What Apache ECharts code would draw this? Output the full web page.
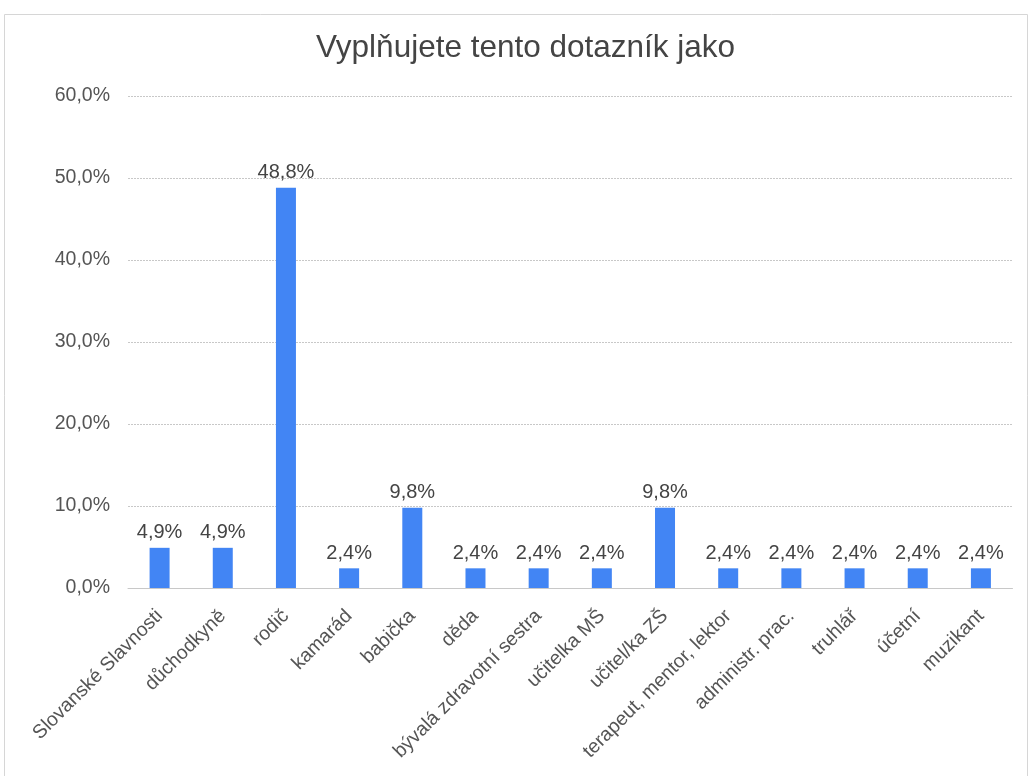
<!DOCTYPE html>
<html>
<head>
<meta charset="utf-8">
<script src="https://cdn.jsdelivr.net/npm/echarts@6/dist/echarts.min.js"></script>
<style>
html,body{margin:0;padding:0;background:#fff;}
#c{width:1032px;height:776px;}
</style>
</head>
<body>
<div id="c"></div>
<script>
const titleText = 'Vyplňujete tento dotazník jako';
const categories = ['Slovanské Slavnosti','důchodkyně','rodič','kamarád','babička','děda','bývalá zdravotní sestra','učitelka MŠ','učitel/ka ZŠ','terapeut, mentor, lektor','administr. prac.','truhlář','účetní','muzikant'];
const values = [4.9, 4.9, 48.8, 2.4, 9.8, 2.4, 2.4, 2.4, 9.8, 2.4, 2.4, 2.4, 2.4, 2.4];
const yTicks = [0, 10, 20, 30, 40, 50, 60];

const fmt = v => v.toFixed(1).replace('.', ',') + '%';
const font = '"Liberation Sans", Arial, sans-serif';

const chart = echarts.init(document.getElementById('c'), null, {renderer: 'canvas'});
chart.setOption({
  animation: false,
  backgroundColor: '#fff',
  graphic: [{
    type: 'rect', shape: {x: 4.5, y: 14.5, width: 1023, height: 780},
    style: {fill: 'none', stroke: '#d6d6d6', lineWidth: 1}, silent: true
  }],
  title: {
    text: titleText, left: 316, top: 32, padding: 0,
    textStyle: {fontFamily: font, fontSize: 31.5, fontWeight: 'normal', color: '#444'}
  },
  grid: {left: 128, right: 19.5, top: 96, bottom: 188, containLabel: false},
  xAxis: {
    type: 'category', data: categories,
    axisLine: {show: true, lineStyle: {color: '#c8c8c8'}},
    axisTick: {show: false},
    axisLabel: {rotate: 45, interval: 0, fontFamily: font, fontSize: 19.5, color: '#555', margin: 25}
  },
  yAxis: {
    type: 'value', min: yTicks[0], max: yTicks[yTicks.length - 1], interval: 10,
    axisLine: {show: false}, axisTick: {show: false},
    splitLine: {lineStyle: {color: '#c8c8c8', type: [2, 1]}},
    axisLabel: {formatter: fmt, fontFamily: font, fontSize: 19.5, color: '#555', margin: 18}
  },
  series: [{
    type: 'bar', data: values, barWidth: 20,
    itemStyle: {color: '#4285F4'},
    label: {show: true, position: 'top', distance: 5, formatter: p => fmt(p.value),
      fontFamily: font, fontSize: 20, color: '#444'}
  }]
});
</script>
</body>
</html>
